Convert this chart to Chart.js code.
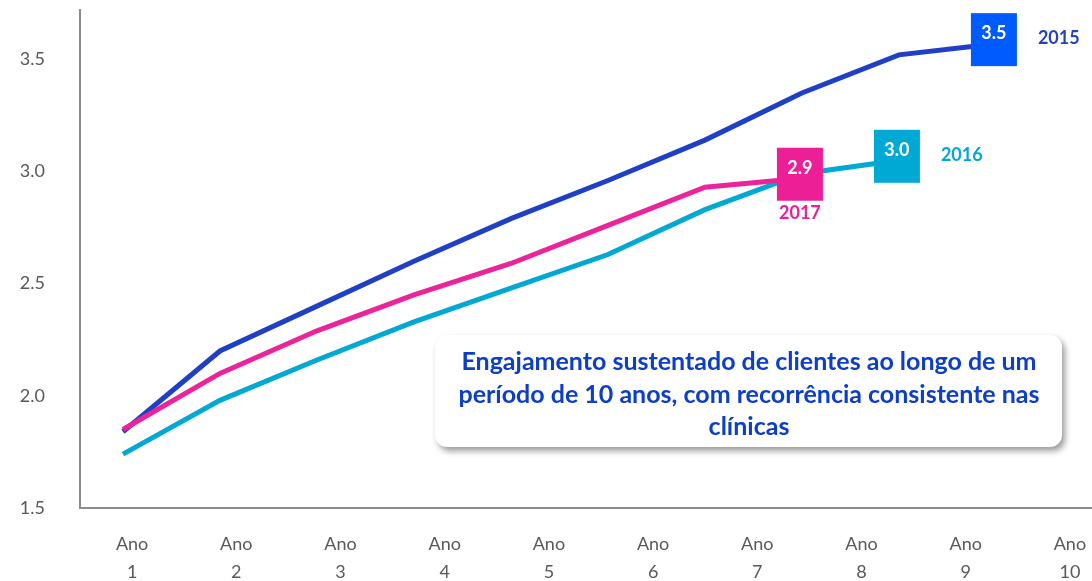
<!DOCTYPE html>
<html>
<head>
<meta charset="utf-8">
<script src="https://cdn.jsdelivr.net/npm/chart.js@4.4.1/dist/chart.umd.min.js"></script>
<style>
  html, body { margin: 0; padding: 0; background: #fff; overflow: hidden; }
  #wrap { position: relative; width: 1122px; height: 581px; }
</style>
</head>
<body>
<div id="wrap"><canvas id="engChart"></canvas></div>
<script>
// tick labels for the bottom axis
const anoLabels = [
  ["Ano", "1"], ["Ano", "2"], ["Ano", "3"], ["Ano", "4"], ["Ano", "5"],
  ["Ano", "6"], ["Ano", "7"], ["Ano", "8"], ["Ano", "9"], ["Ano", "10"],
];
// position of each yearly point
const anoIndex = [1, 2, 3, 4, 5, 6, 7, 8, 9, 10];

const series2015 = [1.84, 2.2, 2.4, 2.6, 2.79, 2.96, 3.14, 3.35, 3.52, 3.57];
const series2016 = [1.74, 1.98, 2.16, 2.33, 2.48, 2.63, 2.83, 2.99, 3.05];
const series2017 = [1.85, 2.1, 2.29, 2.45, 2.59, 2.76, 2.93, 2.97];

const seriesNames = ["2015", "2016", "2017"];
const endValueLabels = ["3.5", "3.0", "2.9"];

const noteLines = [
  "Engajamento sustentado de clientes ao longo de um",
  "período de 10 anos, com recorrência consistente nas",
  "clínicas",
];

const FONT = "Lato, 'Noto Sans', sans-serif";

function toPoints(values) {
  return values.map((v, i) => ({ x: anoIndex[i], y: v }));
}

// value boxes + series names at the end of each line
const endLabels = {
  id: "endLabels",
  afterDatasetsDraw(chart) {
    const ctx = chart.ctx;
    chart.data.datasets.forEach((ds, i) => {
      const meta = chart.getDatasetMeta(i);
      const pt = meta.data[meta.data.length - 1];
      const w = 46, h = 53;
      const bx = pt.x - 2 - w / 2;
      const by = pt.y - 4 - h / 2;
      ctx.save();
      ctx.fillStyle = ds.boxColor;
      ctx.fillRect(bx, by, w, h);
      ctx.fillStyle = "#ffffff";
      ctx.font = `bold 18px ${FONT}`;
      ctx.textAlign = "center";
      ctx.textBaseline = "middle";
      ctx.fillText(ds.endValue, bx + w / 2, by + 20);
      ctx.fillStyle = ds.nameColor;
      ctx.font = `bold 18px ${FONT}`;
      if (ds.namePos === "below") {
        ctx.textAlign = "center";
        ctx.textBaseline = "middle";
        ctx.fillText(ds.label, bx + w / 2, by + h + 12);
      } else {
        ctx.textAlign = "left";
        ctx.textBaseline = "middle";
        ctx.fillText(ds.label, bx + w + 21, by + h / 2 - 1);
      }
      ctx.restore();
    });
  },
};

// white rounded note box with shadow
const noteBox = {
  id: "noteBox",
  afterDraw(chart) {
    const ctx = chart.ctx;
    const x = 435, y = 335, w = 627, h = 112, r = 12;
    ctx.save();
    ctx.shadowColor = "rgba(0,0,0,0.4)";
    ctx.shadowBlur = 6;
    ctx.shadowOffsetX = 3;
    ctx.shadowOffsetY = 4;
    ctx.fillStyle = "#ffffff";
    ctx.beginPath();
    ctx.roundRect(x, y, w, h, r);
    ctx.fill();
    ctx.restore();

    ctx.save();
    ctx.font = `bold 20px ${FONT}`;
    const size = (20 * 575) / ctx.measureText(noteLines[0]).width;
    ctx.font = `bold ${size.toFixed(2)}px ${FONT}`;
    ctx.fillStyle = "#0c3ec6";
    ctx.textAlign = "center";
    ctx.textBaseline = "middle";
    noteLines.forEach((line, i) => {
      ctx.fillText(line, 749, 362 + i * 32.5);
    });
    ctx.restore();
  },
};

const engChart = document.getElementById("engChart");
new Chart(engChart, {
  type: "line",
  data: {
    datasets: [
      {
        label: seriesNames[2],
        data: toPoints(series2017),
        borderColor: "#ec239b",
        boxColor: "#ec1f97",
        nameColor: "#ec1f97",
        endValue: endValueLabels[2],
        namePos: "below",
      },
      {
        label: seriesNames[1],
        data: toPoints(series2016),
        borderColor: "#00a8d4",
        boxColor: "#00a8d4",
        nameColor: "#00a8d4",
        endValue: endValueLabels[1],
        namePos: "right",
      },
      {
        label: seriesNames[0],
        data: toPoints(series2015),
        borderColor: "#1f40c6",
        boxColor: "#005bff",
        nameColor: "#2443b8",
        endValue: endValueLabels[0],
        namePos: "right",
      },
    ],
  },
  options: {
    responsive: true,
    maintainAspectRatio: false,
    animation: false,
    layout: { padding: { top: 10, left: 0, right: 0, bottom: 0 } },
    elements: {
      line: { borderWidth: 5, tension: 0, fill: false },
      point: { radius: 0, hoverRadius: 0 },
    },
    plugins: {
      legend: { display: false },
      tooltip: { enabled: false },
    },
    scales: {
      x: {
        type: "linear",
        min: 0.557,
        max: 11.3,
        display: false,
      },
      anos: {
        type: "category",
        position: "bottom",
        labels: anoLabels,
        offset: true,
        grid: { display: false, drawTicks: false },
        border: { display: true, color: "#8c8c8c", width: 2 },
        ticks: {
          color: "#595959",
          font: { family: FONT, size: 18, lineHeight: 1.55 },
          padding: 22,
          maxRotation: 0,
          autoSkip: false,
        },
        afterFit: (scale) => { scale.height = 73; },
      },
      y: {
        min: 1.5,
        max: 3.72,
        grid: { display: false, drawTicks: false },
        border: { display: true, color: "#8c8c8c", width: 2 },
        ticks: {
          stepSize: 0.5,
          color: "#595959",
          font: { family: FONT, size: 18 },
          padding: 35,
          callback: (v) => v.toFixed(1),
        },
        afterBuildTicks: (scale) => {
          scale.ticks = scale.ticks.filter((t) => Math.abs(t.value * 2 - Math.round(t.value * 2)) < 1e-6);
        },
        afterFit: (scale) => {
          scale.width = 80;
          scale.paddingTop = 0;
          scale.paddingBottom = 0;
        },
      },
    },
  },
  plugins: [endLabels, noteBox],
});
</script>
</body>
</html>
